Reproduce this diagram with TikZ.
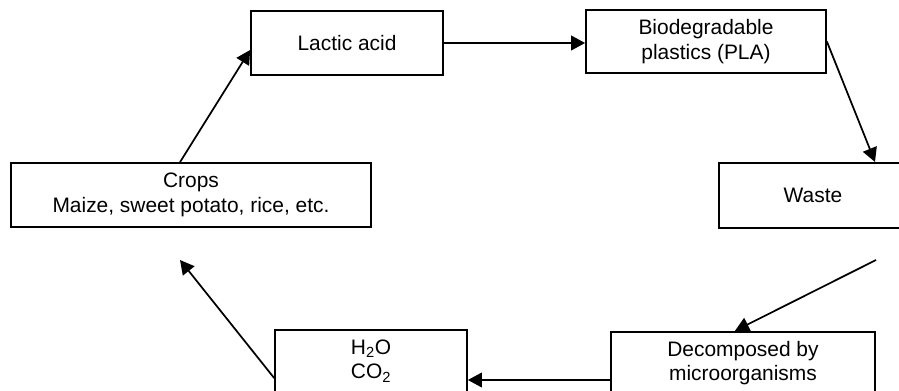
\documentclass[tikz,border=0pt]{standalone}
\usepackage{fontspec}
\setmainfont{Liberation Sans}
\usepackage{tikz}
\usetikzlibrary{positioning, arrows.meta, calc}

\begin{document}
\begin{tikzpicture}[x=0.75pt, y=-0.75pt, >={Triangle[length=10.5pt, width=11pt]},
        line width=1.3pt,
        box/.style={draw, rectangle, align=center, inner sep=0pt,
                    font=\fontsize{15.7}{18.5}\selectfont}]
        \useasboundingbox (0, 0) rectangle (899, 391);

        \node[box, minimum width=144pt, minimum height=48pt]
              (lactic) at (347, 43)    {Lactic acid};
        \node[box, minimum width=180pt, minimum height=47pt]
              (plastic) at (706, 41.5) {Biodegradable\\plastics (PLA)};
        \node[box, minimum width=141pt, minimum height=49pt]
              (waste)  at (813, 195.5) {Waste};
        \node[box, minimum width=198pt, minimum height=47pt]
              (decomp) at (743, 363)   {Decomposed by\\microorganisms};
        \node[box, minimum width=144pt, minimum height=46pt]
              (gas)    at (371, 361)   {H\textsubscript{2}O\\CO\textsubscript{2}};
        \node[box, minimum width=270pt, minimum height=48pt]
              (crops)  at (191, 195)   {Crops\\Maize, sweet potato, rice, etc.};

        \coordinate (wasteout) at (876, 260);
        \coordinate (cropsin)  at (180, 260);

        \draw[->] ($(crops.north)+(-11, 0)$) -- ($(lactic.west)+(0, 7)$);
        \draw[->] (lactic) -- (plastic.west |- lactic);
        \draw[->] (plastic.east) -- ($(waste.north)+(62, 0)$);
        \draw[->] (wasteout) -- ($(decomp.north)+(-8, 0)$);
        \draw[->] ($(decomp.west)+(0, 17)$) -- ($(gas.east)+(0, 19)$);
        \draw[->] ($(gas.west)+(0, 17)$) -- (cropsin);
    \end{tikzpicture}
\end{document}
